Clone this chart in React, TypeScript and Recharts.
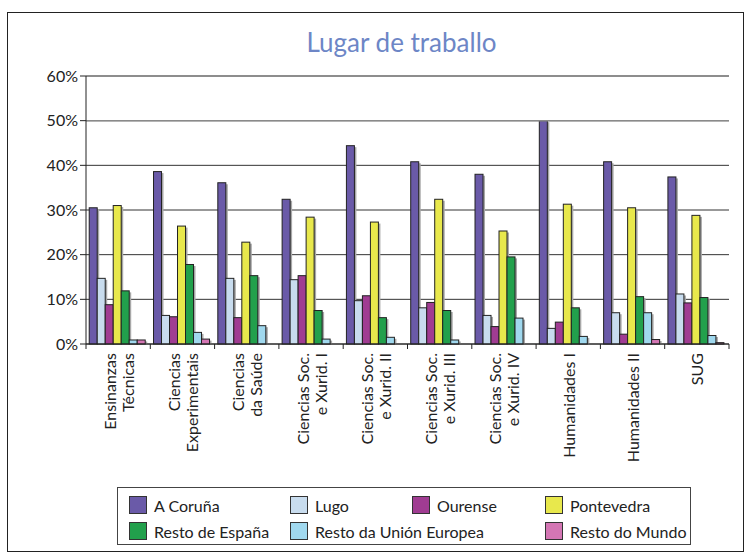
import React from 'react';
import { BarChart, Bar, XAxis, YAxis, CartesianGrid, ReferenceLine } from 'recharts';

// Categories (line breaks kept as "|")
const categories = [
  'Ensinanzas|Técnicas',
  'Ciencias|Experimentais',
  'Ciencias|da Saúde',
  'Ciencias Soc.|e Xurid. I',
  'Ciencias Soc.|e Xurid. II',
  'Ciencias Soc.|e Xurid. III',
  'Ciencias Soc.|e Xurid. IV',
  'Humanidades I',
  'Humanidades II',
  'SUG',
];

const coruna = [30.5, 38.6, 36.1, 32.4, 44.4, 40.8, 38.0, 50.0, 40.8, 37.4];
const lugo = [14.7, 6.4, 14.7, 14.4, 9.7, 8.1, 6.4, 3.5, 7.0, 11.2];
const ourense = [8.8, 6.1, 5.9, 15.3, 10.8, 9.3, 3.9, 4.9, 2.2, 9.2];
const pontevedra = [31.0, 26.4, 22.8, 28.4, 27.3, 32.4, 25.3, 31.3, 30.5, 28.8];
const restoEspana = [11.9, 17.8, 15.3, 7.5, 5.9, 7.5, 19.5, 8.1, 10.6, 10.4];
const restoUE = [0.9, 2.6, 4.1, 1.1, 1.5, 0.9, 5.8, 1.7, 7.0, 1.9];
const restoMundo = [0.9, 1.1, 0, 0, 0, 0, 0, 0, 1.0, 0.3];

const yTicks = [0, 10, 20, 30, 40, 50, 60];

const series = [
  { key: 'coruna', name: 'A Coruña', color: '#6a5aa8', values: coruna },
  { key: 'lugo', name: 'Lugo', color: '#c8dcee', values: lugo },
  { key: 'ourense', name: 'Ourense', color: '#a03c92', values: ourense },
  { key: 'pontevedra', name: 'Pontevedra', color: '#e8e84c', values: pontevedra },
  { key: 'restoEspana', name: 'Resto de España', color: '#22a04c', values: restoEspana },
  { key: 'restoUE', name: 'Resto da Unión Europea', color: '#a0d8ee', values: restoUE },
  { key: 'restoMundo', name: 'Resto do Mundo', color: '#d476b4', values: restoMundo },
];

const data = categories.map((cat, i) => {
  const row: Record<string, string | number> = { cat };
  series.forEach((s) => { row[s.key] = s.values[i]; });
  return row;
});

const FONT = 'Lato, "Noto Sans", sans-serif';

const ShadowBar = (props: any) => {
  const { x, y, width, height, fill } = props;
  if (!height || height <= 0) return <g />;
  return (
    <g>
      <rect x={x + 2} y={y + 1.5} width={width} height={height - 1.5} fill="#a8a8a8" />
      <rect x={x} y={y} width={width} height={height} fill={fill} stroke="#222" strokeWidth={1} />
    </g>
  );
};

const CatTick = (props: any) => {
  const { x, y, payload, index, visibleTicksCount } = props;
  const half = payload && payload.offset ? payload.offset : 32;
  const lines = String(payload.value).split('|');
  const offs = lines.length === 2 ? [-9, 9] : [0];
  const last = index === (visibleTicksCount ?? categories.length) - 1;
  return (
    <g>
      <line x1={x - half} y1={y} x2={x - half} y2={y + 5} stroke="#222" />
      {last && <line x1={x + half} y1={y} x2={x + half} y2={y + 5} stroke="#222" />}
      {lines.map((ln, i) => (
        <text
          key={i}
          x={x + offs[i]}
          y={y + 9}
          transform={`rotate(-90 ${x + offs[i]} ${y + 9})`}
          textAnchor="end"
          dominantBaseline="central"
          fontSize={16}
          fontFamily={FONT}
          fill="#222"
        >
          {ln}
        </text>
      ))}
    </g>
  );
};

const legendCols = [11, 172, 294, 427];
const legendPos = [
  [0, 0], [1, 0], [2, 0], [3, 0],
  [0, 1], [1, 1], [3, 1],
];

const LegendBox = () => (
  <div
    style={{
      position: 'absolute',
      left: 117,
      top: 487,
      width: 574,
      height: 58,
      border: '1px solid #444',
      boxSizing: 'border-box',
      background: '#fff',
      fontFamily: FONT,
      fontSize: 16,
      color: '#222',
    }}
  >
    {series.map((s, i) => {
      const [c, r] = legendPos[i];
      return (
        <div
          key={s.key}
          style={{
            position: 'absolute',
            left: legendCols[c],
            top: r === 0 ? 8 : 34,
            height: 18,
            display: 'flex',
            alignItems: 'center',
            whiteSpace: 'nowrap',
          }}
        >
          <span
            style={{
              display: 'inline-block',
              width: 18,
              height: 18,
              background: s.color,
              border: '1px solid #333',
              boxSizing: 'border-box',
              marginRight: 7,
            }}
          />
          <span>{s.name}</span>
        </div>
      );
    })}
  </div>
);

export default function App() {
  return (
    <div style={{ position: 'absolute', left: 0, top: 0, width: 751, height: 558, background: '#fff' }}>
      <div
        style={{
          position: 'absolute',
          left: 7,
          top: 12,
          width: 737,
          height: 540,
          border: '1.5px solid #222',
          boxSizing: 'border-box',
        }}
      />
      <div
        style={{
          position: 'absolute',
          left: 80,
          width: 643,
          top: 26,
          textAlign: 'center',
          fontFamily: FONT,
          fontSize: 26,
          color: '#6d86c6',
        }}
      >
        Lugar de traballo
      </div>
      <div style={{ position: 'absolute', left: 0, top: 0 }}>
        <BarChart
          width={751}
          height={558}
          data={data}
          margin={{ top: 76, right: 22, left: 0, bottom: 84 }}
          barCategoryGap="5%"
          barGap={0}
        >
          <CartesianGrid horizontal vertical={false} stroke="#333" />
          <ReferenceLine y={60} stroke="#8a8a8a" strokeWidth={1.5} />
          <ReferenceLine y={50} stroke="#8a8a8a" strokeWidth={1.5} />
          <XAxis
            dataKey="cat"
            height={130}
            interval={0}
            tickSize={0}
            tickMargin={0}
            tickLine={false}
            axisLine={{ stroke: '#222' }}
            tick={<CatTick />}
          />
          <YAxis
            width={86}
            domain={[0, 60]}
            ticks={yTicks}
            interval={0}
            tickSize={6}
            tickLine={{ stroke: '#222' }}
            axisLine={{ stroke: '#222' }}
            tickFormatter={(v: number) => `${v}%`}
            tick={{ fill: '#222', fontSize: 16, fontFamily: FONT }}
          />
          <YAxis
            yAxisId="r"
            orientation="right"
            width={0}
            domain={[0, 60]}
            tick={false}
            tickLine={false}
            axisLine={{ stroke: '#999' }}
          />
          {series.map((s) => (
            <Bar
              key={s.key}
              dataKey={s.key}
              name={s.name}
              fill={s.color}
              isAnimationActive={false}
              shape={ShadowBar}
            />
          ))}
        </BarChart>
      </div>
      <LegendBox />
    </div>
  );
}
